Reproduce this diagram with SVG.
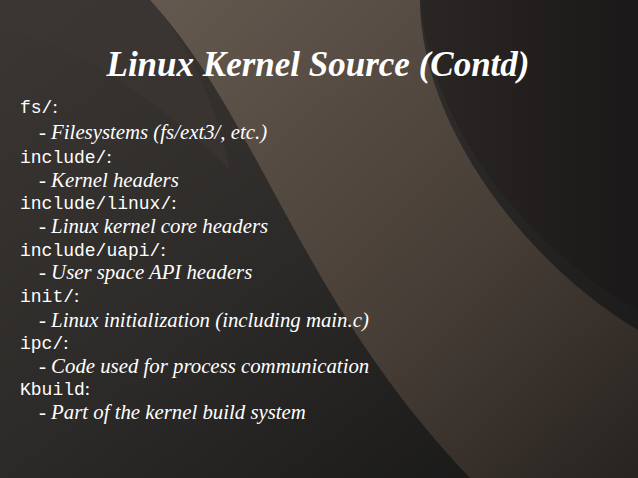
<svg xmlns="http://www.w3.org/2000/svg" width="638" height="478" viewBox="0 0 638 478">
<defs>
<linearGradient id="bg" x1="0" y1="0" x2="1" y2="1"><stop offset="0" stop-color="#3a3633"/><stop offset="0.5" stop-color="#2c2a28"/><stop offset="1" stop-color="#151515"/></linearGradient>
<linearGradient id="band" x1="0" y1="0" x2="1" y2="1"><stop offset="0" stop-color="#6a5d52"/><stop offset="0.6" stop-color="#4a4038"/><stop offset="1" stop-color="#2a2522"/></linearGradient>
<linearGradient id="rt" x1="0" y1="0" x2="1" y2="0"><stop offset="0" stop-color="#2a2624"/><stop offset="1" stop-color="#1a1818"/></linearGradient>
<style>
text{fill:#fff}
.t{font-family:"Liberation Serif",serif;font-style:italic;font-weight:bold;font-size:35px}
.m{font-family:"Liberation Mono",monospace;font-size:18px}
.c{font-family:"Liberation Serif",serif;font-size:19px}
.s{font-family:"Liberation Serif",serif;font-style:italic;font-size:20.8px}
</style>
</defs>
<rect width="638" height="478" fill="url(#bg)"/>
<path d="M150 0 C260 120 300 300 470 478 L638 478 L638 330 C520 260 420 120 420 0 Z" fill="url(#band)" opacity="0.9"/>
<path d="M420 0 C430 130 530 250 638 310 L638 0 Z" fill="url(#rt)"/>
<path d="M0 0 L150 0 C200 60 220 120 230 170 C150 90 60 40 0 30 Z" fill="#3d3733" opacity="0.6"/>
<text class="t" x="318" y="76" text-anchor="middle">Linux Kernel Source (Contd)</text>
<g>
<text x="20" y="113"><tspan class="m">fs/</tspan><tspan class="c">:</tspan></text>
<text class="s" x="39" y="139">- Filesystems (fs/ext3/, etc.)</text>
<text x="20" y="163"><tspan class="m">include/</tspan><tspan class="c">:</tspan></text>
<text class="s" x="39" y="187">- Kernel headers</text>
<text x="20" y="209"><tspan class="m">include/linux/</tspan><tspan class="c">:</tspan></text>
<text class="s" x="39" y="233">- Linux kernel core headers</text>
<text x="20" y="256"><tspan class="m">include/uapi/</tspan><tspan class="c">:</tspan></text>
<text class="s" x="39" y="279">- User space API headers</text>
<text x="20" y="302"><tspan class="m">init/</tspan><tspan class="c">:</tspan></text>
<text class="s" x="39" y="327">- Linux initialization (including main.c)</text>
<text x="20" y="349"><tspan class="m">ipc/</tspan><tspan class="c">:</tspan></text>
<text class="s" x="39" y="373">- Code used for process communication</text>
<text x="20" y="395"><tspan class="m">Kbuild</tspan><tspan class="c">:</tspan></text>
<text class="s" x="39" y="419">- Part of the kernel build system</text>
</g>
</svg>
